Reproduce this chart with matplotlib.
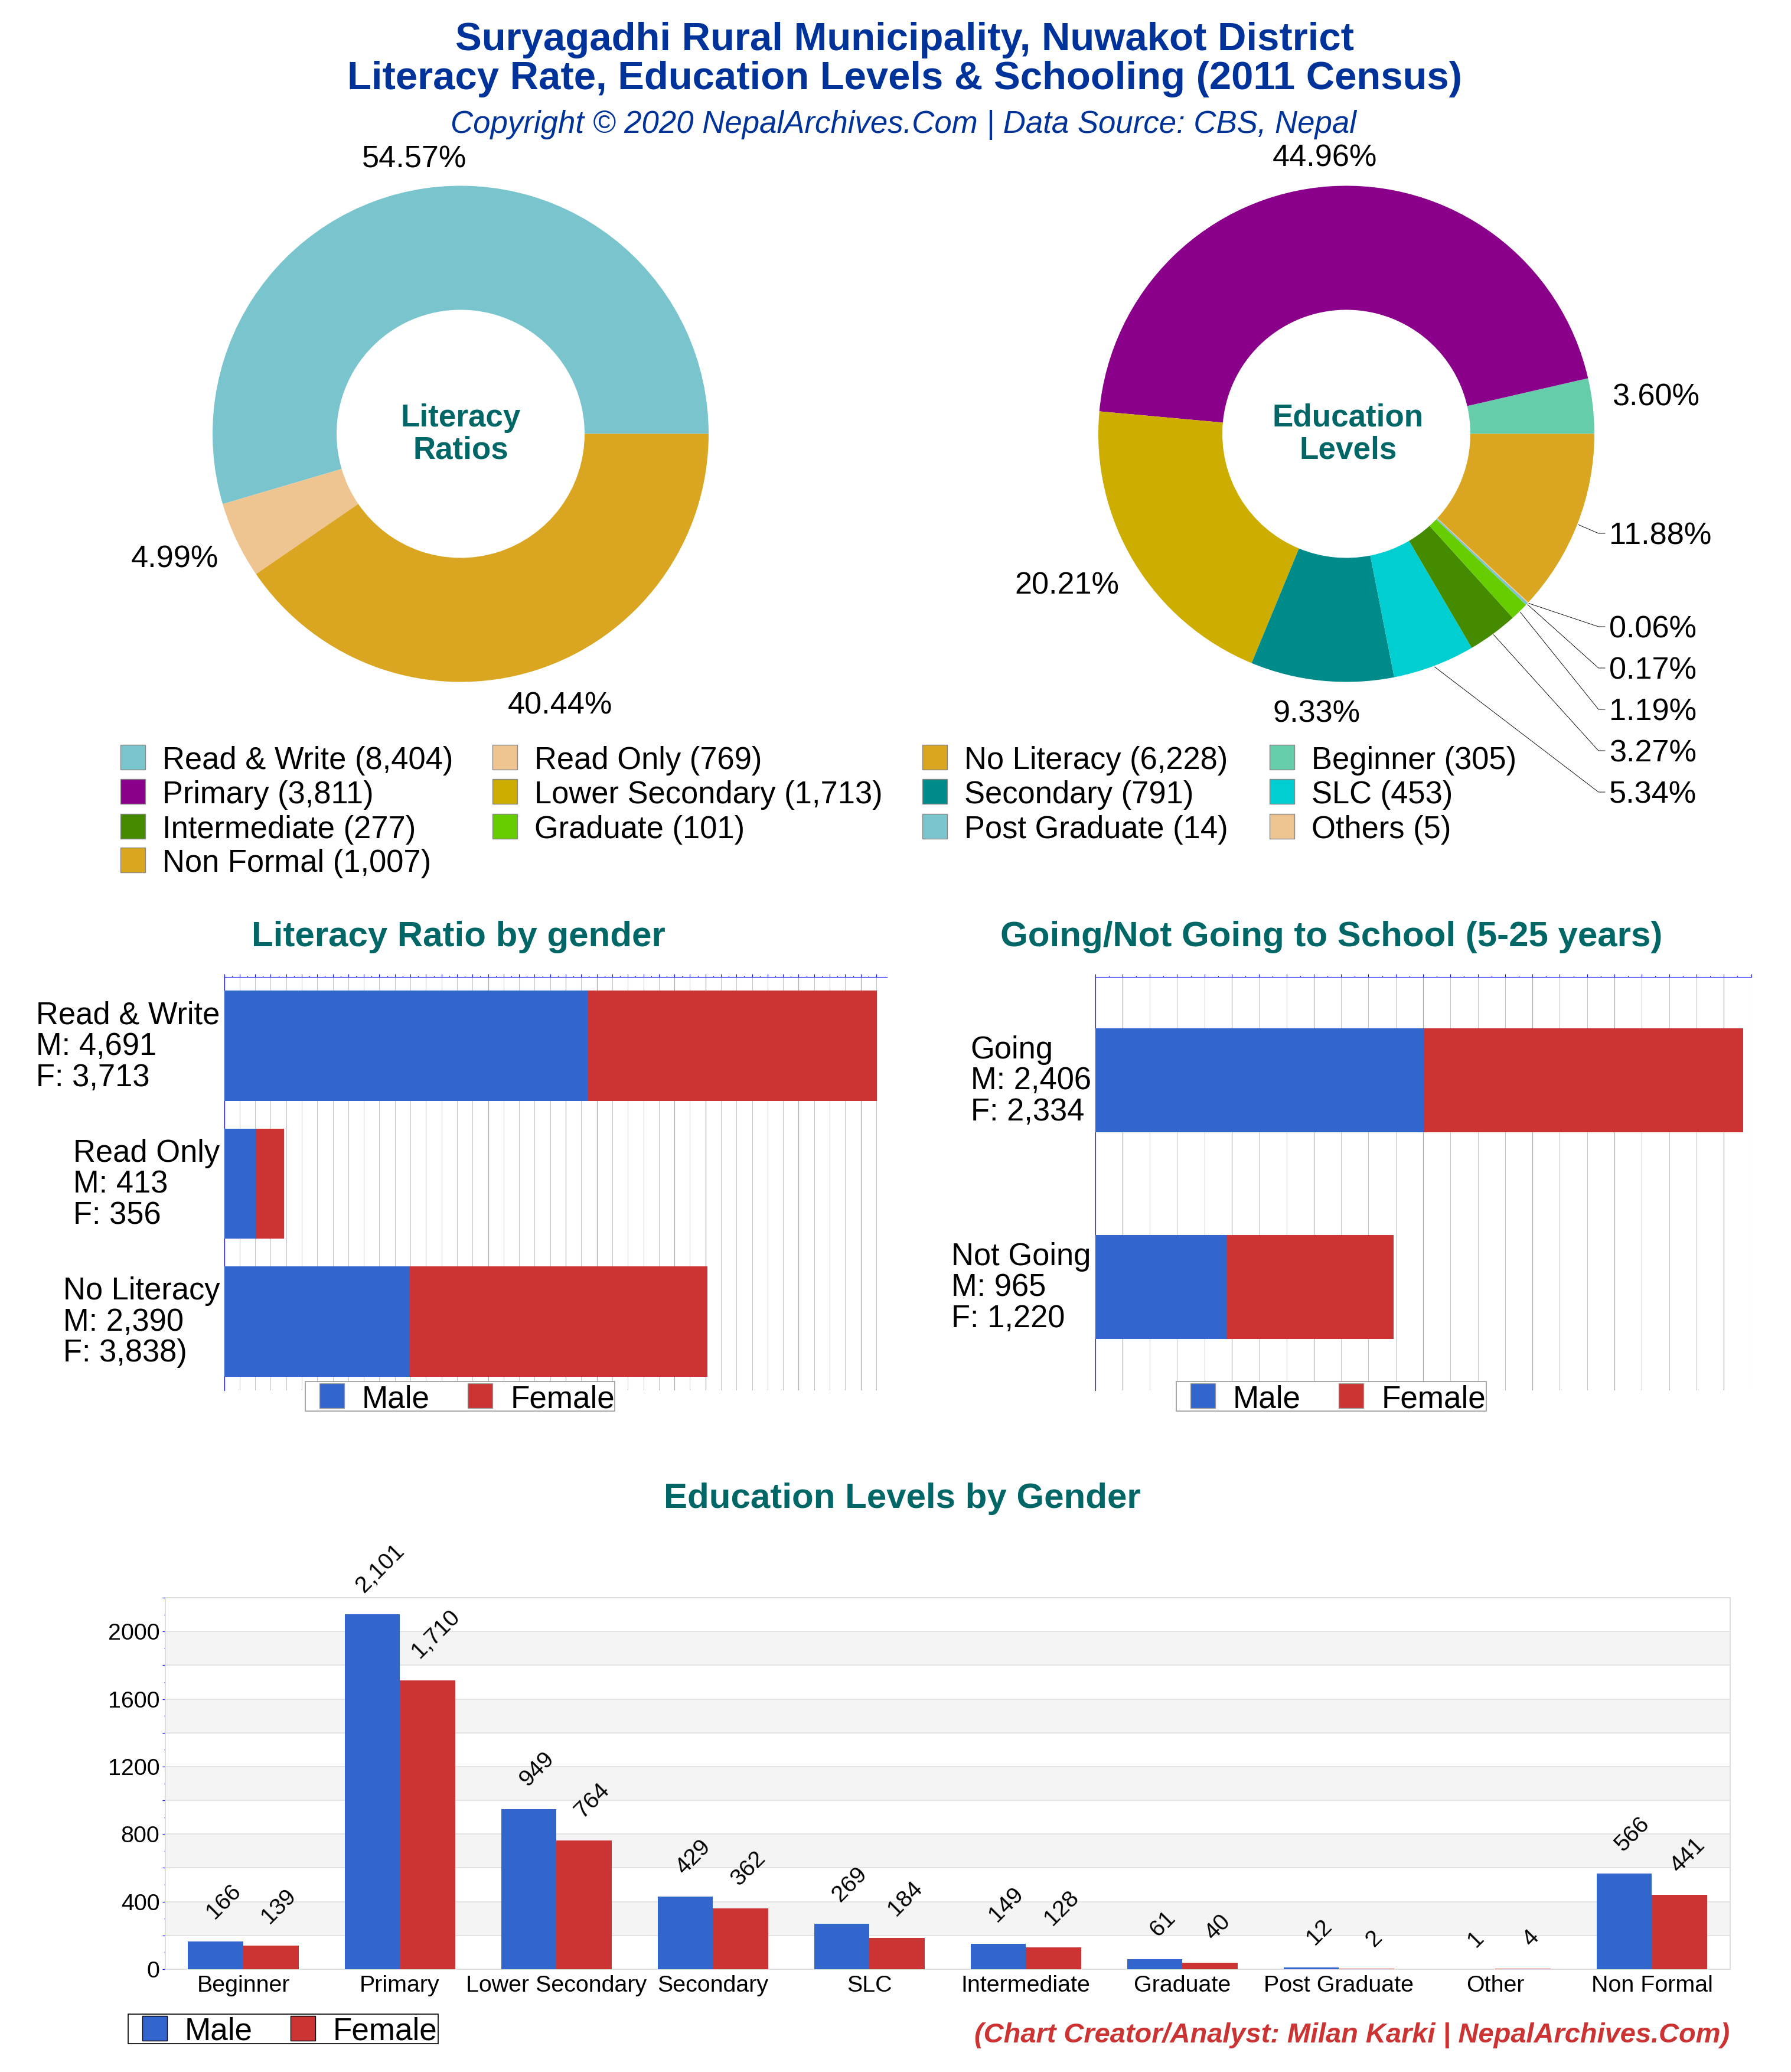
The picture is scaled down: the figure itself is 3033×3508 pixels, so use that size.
"""Literacy, education levels and schooling charts for Suryagadhi Rural Municipality."""
import matplotlib
matplotlib.use('Agg')
import matplotlib.pyplot as plt
import numpy as np
from matplotlib.patches import Rectangle
from matplotlib.transforms import ScaledTranslation

plt.rcParams['font.family'] = ['Liberation Sans', 'DejaVu Sans']

W, H = 3033, 3508

# data
literacy_names = ['Read & Write', 'Read Only', 'No Literacy']
literacy_male = [4691, 413, 2390]
literacy_female = [3713, 356, 3838]
literacy_totals = [8404, 769, 6228]
literacy_ticks = ['Read & Write\nM: 4,691\nF: 3,713', 'Read Only\nM: 413\nF: 356', 'No Literacy\nM: 2,390\nF: 3,838)']

edu_names = ['Beginner', 'Primary', 'Lower Secondary', 'Secondary', 'SLC', 'Intermediate',
             'Graduate', 'Post Graduate', 'Other', 'Non Formal']
edu_totals = [305, 3811, 1713, 791, 453, 277, 101, 14, 5, 1007]
edu_male = [166, 2101, 949, 429, 269, 149, 61, 12, 1, 566]
edu_female = [139, 1710, 764, 362, 184, 128, 40, 2, 4, 441]

school_ticks = ['Going\nM: 2,406\nF: 2,334', 'Not Going\nM: 965\nF: 1,220']
school_male = [2406, 965]
school_female = [2334, 1220]

legend_rows = [
    [('Read & Write (8,404)', '#7AC5CD'), ('Read Only (769)', '#EEC591'), ('No Literacy (6,228)', '#DAA520'), ('Beginner (305)', '#66CDAA')],
    [('Primary (3,811)', '#8B008B'), ('Lower Secondary (1,713)', '#CDAD00'), ('Secondary (791)', '#008B8B'), ('SLC (453)', '#00CED1')],
    [('Intermediate (277)', '#458B00'), ('Graduate (101)', '#66CD00'), ('Post Graduate (14)', '#7AC5CD'), ('Others (5)', '#EEC591')],
    [('Non Formal (1,007)', '#DAA520')],
]

literacy_colors = ['#7AC5CD', '#EEC591', '#DAA520']
edu_colors = ['#66CDAA', '#8B008B', '#CDAD00', '#008B8B', '#00CED1', '#458B00', '#66CD00', '#7AC5CD', '#EEC591', '#DAA520']

BLUE = '#3366CC'
RED = '#CC3333'
NAVY = '#003399'
TEAL = '#006666'

fig = plt.figure(figsize=(W / 100, H / 100), dpi=100, facecolor='white')


def fx(x):
    return x / W


def fy(y):
    return 1 - y / H


def px_axes(left, top, right, bottom):
    return fig.add_axes([fx(left), fy(bottom), (right - left) / W, (bottom - top) / H])


def txt(x, y, s, em, ha='left', color='black', **kw):
    # y is the middle of the capitals, em is the font size in pixels
    fig.text(fx(x), fy(y + 0.358 * em), s, fontsize=em * 0.72, ha=ha, va='baseline', color=color, **kw)


def key_box(box, items, edge):
    # small Male/Female legend: box is left, top, right, bottom, items are swatch x and text x
    fig.add_artist(Rectangle((fx(box[0]), fy(box[3])), (box[2] - box[0]) / W, (box[3] - box[1]) / H,
                             transform=fig.transFigure, fc='white', ec=edge, lw=1.2, zorder=5))
    for sx, tx, name, col in items:
        fig.add_artist(Rectangle((fx(sx), fy(box[3] - 5)), 42 / W, (box[3] - box[1] - 8) / H,
                                 transform=fig.transFigure, fc=col, ec=edge, lw=1, zorder=6))
        fig.text(fx(tx), fy((box[1] + box[3]) / 2 + 19), name, fontsize=38.2, ha='left', va='baseline', zorder=6)


def donut(cx, cy, values, colors):
    r = 420
    ax = px_axes(cx - r, cy - r, cx + r, cy + r)
    ax.pie(values, colors=colors, startangle=0, counterclock=True, radius=1,
           wedgeprops={'width': 0.5, 'linewidth': 0})
    ax.set_xlim(-1, 1)
    ax.set_ylim(-1, 1)
    ax.set_aspect('equal')
    return ax


def pct(values):
    total = sum(values)
    return [f'{v / total * 100:.2f}%' for v in values]


def stacked(ax_box, ticks, male, female, xmax, last_grid, dark, bar_h):
    ax = px_axes(*ax_box)
    y = np.arange(len(ticks))
    ax.set_xlim(0, xmax)
    ax.set_ylim(len(ticks) - 0.5, -0.5)
    ax.set_axisbelow(True)
    ax.xaxis.tick_top()
    ax.set_xticks(np.arange(0, last_grid + 1, 200))
    ax.set_xticks(np.arange(100, last_grid + 1, 200), minor=True)
    ax.tick_params(axis='x', which='major', length=5 * 0.72, width=0.8, color='#0000FF', labeltop=False)
    ax.tick_params(axis='x', which='minor', length=2.5 * 0.72, width=0.8, color='#0000FF')
    ax.grid(axis='x', which='major', color='#C4C4C4', lw=0.75)
    for d in dark:
        ax.axvline(d, color='#AAAAAA', lw=0.85, zorder=1)
    ax.barh(y, male, height=bar_h, color=BLUE, zorder=3)
    ax.barh(y, female, left=male, height=bar_h, color=RED, zorder=3)
    ax.set_yticks(y)
    ax.set_yticklabels(ticks, fontsize=37.8, ma='left', linespacing=1.07)
    ax.tick_params(axis='y', length=0, pad=5)
    # the label blocks sit a little above the middle of their bars
    for label in ax.get_yticklabels():
        label.set_transform(label.get_transform() + ScaledTranslation(0, 4 / 72, fig.dpi_scale_trans))
    for side in ['right', 'bottom']:
        ax.spines[side].set_visible(False)
    for side in ['top', 'left']:
        ax.spines[side].set_color('#0000FF')
        ax.spines[side].set_linewidth(0.8)
    return ax


# headings
txt(1532, 61, 'Suryagadhi Rural Municipality, Nuwakot District', 67, ha='center', color=NAVY, fontweight='bold')
txt(1532, 127, 'Literacy Rate, Education Levels & Schooling (2011 Census)', 67, ha='center', color=NAVY, fontweight='bold')
txt(1530, 206, 'Copyright © 2020 NepalArchives.Com | Data Source: CBS, Nepal', 52.8, ha='center', color=NAVY, fontstyle='italic')

# literacy donut
LIT_CX, EDU_CX, PIE_CY = 780, 2280, 734.5
donut(LIT_CX, PIE_CY, literacy_totals, literacy_colors)
txt(LIT_CX, 703, 'Literacy', 53, ha='center', color=TEAL, fontweight='bold')
txt(LIT_CX, 758, 'Ratios', 53, ha='center', color=TEAL, fontweight='bold')
lit_pct = pct(literacy_totals)
txt(613, 265, lit_pct[0], 52.3)
txt(222, 942, lit_pct[1], 52.3)
txt(860, 1190, lit_pct[2], 52.3)

# education donut
donut(EDU_CX, PIE_CY, edu_totals, edu_colors)
txt(EDU_CX + 3, 703, 'Education', 53, ha='center', color=TEAL, fontweight='bold')
txt(EDU_CX + 3, 758, 'Levels', 53, ha='center', color=TEAL, fontweight='bold')
edu_pct = pct(edu_totals)
txt(2155, 263, edu_pct[1], 52.3)
txt(2730, 668, edu_pct[0], 52.3)
txt(1718, 987, edu_pct[2], 52.3)
txt(2156, 1204, edu_pct[3], 52.3)

# labels with leader lines, read downward from Non Formal to SLC
leader_idx = [9, 8, 7, 6, 5, 4]
leader_y = [903, 1061, 1131, 1201, 1271, 1341]
fracs = np.cumsum(edu_totals) / sum(edu_totals)
for i, ly in zip(leader_idx, leader_y):
    mid = (fracs[i] - edu_totals[i] / sum(edu_totals) / 2) * 2 * np.pi
    sx = EDU_CX + 422 * np.cos(mid)
    sy = PIE_CY - 422 * np.sin(mid)
    fig.add_artist(plt.Line2D([fx(sx), fx(2707), fx(2718)], [fy(sy), fy(ly), fy(ly)],
                              transform=fig.transFigure, color='black', lw=0.65))
    txt(2725, ly, edu_pct[i], 52.3)

# colour keys of the donuts
col_x = [204, 834, 1562, 2150]
row_y = [1282, 1340, 1399, 1456]
for yy, row in zip(row_y, legend_rows):
    for xx, (label, col) in zip(col_x, row):
        fig.add_artist(Rectangle((fx(xx), fy(yy + 21)), 42 / W, 42 / H, transform=fig.transFigure,
                                 fc=col, ec='#888888', lw=1))
        txt(xx + 71, yy + 1, label, 52.5)

# gender bars
txt(776, 1581, 'Literacy Ratio by gender', 60, ha='center', color=TEAL, fontweight='bold')
txt(2255, 1581, 'Going/Not Going to School (5-25 years)', 60, ha='center', color=TEAL, fontweight='bold')

stacked((379.5, 1654, 1502, 2354), literacy_ticks, literacy_male, literacy_female, 8537, 8400,
        [3400, 4400, 4800, 5800, 6200, 7400, 8200], 0.8)
stacked((1854.5, 1654, 2965.5, 2354), school_ticks, school_male, school_female, 4800, 4800,
        [200, 1000, 1600, 2400, 3200, 3800, 4600], 0.503)

key_box((517, 2339, 1041, 2389), [(541, 613, 'Male', BLUE), (792, 865, 'Female', RED)], '#999999')
key_box((1992, 2339, 2517, 2389), [(2016, 2088, 'Male', BLUE), (2267, 2340, 'Female', RED)], '#999999')

# education by gender
txt(1528, 2532, 'Education Levels by Gender', 60, ha='center', color=TEAL, fontweight='bold')

ax = px_axes(279.5, 2705, 2930, 3334)
x = np.arange(len(edu_names))
bar_w = 0.353
ax.set_xlim(-0.5, len(edu_names) - 0.5)
ax.set_ylim(0, 2200)
ax.set_axisbelow(True)
for low in np.arange(200, 2000, 400):
    ax.axhspan(low, low + 200, color='#F4F4F4', lw=0, zorder=0)
ax.set_yticks(np.arange(0, 2201, 200))
ax.set_yticks(np.arange(100, 2200, 200), minor=True)
ax.set_yticklabels([str(v) if v % 400 == 0 and v < 2200 else '' for v in np.arange(0, 2201, 200)], fontsize=28.4)
ax.tick_params(axis='y', which='major', length=5 * 0.72, width=0.9, color='#0000FF', pad=3)
ax.tick_params(axis='y', which='minor', length=2.5 * 0.72, width=0.9, color='#0000FF')
ax.grid(axis='y', which='major', color='#DDDDDD', lw=1.1, zorder=1)
m_bars = ax.bar(x - bar_w / 2, edu_male, bar_w, color=BLUE, zorder=3)
f_bars = ax.bar(x + bar_w / 2, edu_female, bar_w, color=RED, zorder=3)
for bars, vals in ((m_bars, edu_male), (f_bars, edu_female)):
    for b, v in zip(bars, vals):
        ax.annotate(f'{v:,}', (b.get_x() + b.get_width() / 2, v), xytext=(10, 22), textcoords='offset points',
                    rotation=45, ha='center', va='bottom', fontsize=28.4, annotation_clip=False)
ax.set_xticks(x)
ax.set_xticklabels(edu_names, fontsize=28.4)
ax.tick_params(axis='x', length=0, pad=7)
for spine in ax.spines.values():
    spine.set_color('#DDDDDD')
    spine.set_linewidth(1.4)

key_box((217, 3410, 742, 3460), [(241, 313, 'Male', BLUE), (492, 564, 'Female', RED)], 'black')
txt(2929, 3441, '(Chart Creator/Analyst: Milan Karki | NepalArchives.Com)', 47, ha='right', color=RED,
    fontweight='bold', fontstyle='italic')

fig.savefig('out.png', dpi=100)
